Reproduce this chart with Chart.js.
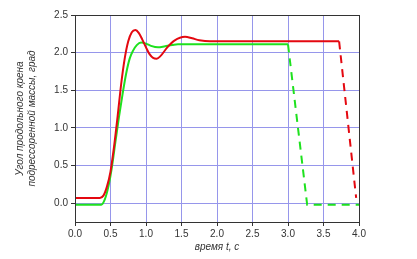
<!DOCTYPE html>
<html>
<head>
<meta charset="utf-8">
<script src="https://cdn.jsdelivr.net/npm/chart.js@4"></script>
<style>
  html, body { margin: 0; padding: 0; background: #fff; }
  #wrap { width: 417px; height: 259px; }
</style>
</head>
<body>
<div id="wrap"><canvas id="ChartKren" width="417" height="259"></canvas></div>
<script>
// время, с и угол крена, град
const redT = [0, 0.35, 0.40, 0.45, 0.50, 0.55, 0.60, 0.65, 0.70, 0.75, 0.80, 0.85, 0.90, 0.95, 1.00, 1.05, 1.10, 1.15, 1.20, 1.30, 1.40, 1.55, 1.65, 1.75, 1.90, 3.72];
const redY = [0.07, 0.07, 0.10, 0.22, 0.42, 0.75, 1.15, 1.58, 1.92, 2.15, 2.27, 2.30, 2.26, 2.17, 2.07, 1.98, 1.93, 1.92, 1.95, 2.07, 2.16, 2.21, 2.19, 2.165, 2.15, 2.15];
const redDashT = [3.72, 3.96];
const redDashY = [2.15, 0.07];

const greenT = [0, 0.37, 0.42, 0.47, 0.52, 0.57, 0.62, 0.67, 0.72, 0.77, 0.82, 0.87, 0.93, 1.00, 1.07, 1.17, 1.27, 1.37, 1.45, 3.00];
const greenY = [-0.02, -0.02, 0.05, 0.22, 0.48, 0.82, 1.15, 1.45, 1.72, 1.92, 2.03, 2.10, 2.135, 2.12, 2.09, 2.07, 2.085, 2.10, 2.11, 2.11];
const greenDashT = [3.00, 3.27, 4.00];
const greenDashY = [2.11, -0.02, -0.02];

const yTicks = [0, 0.5, 1.0, 1.5, 2.0, 2.5];

const toPoints = (ts, ys) => ts.map((t, i) => ({ x: t, y: ys[i] }));

const RED = 'rgb(228, 8, 16)';
const GREEN = 'rgb(30, 225, 30)';
const GRID = 'rgb(150, 150, 235)';

const rama = {
    id: 'rama',
    afterDraw(chart) {
        const { ctx, chartArea: a } = chart;
        ctx.save();
        ctx.strokeStyle = '#333';
        ctx.lineWidth = 1;
        ctx.strokeRect(a.left + 0.5, a.top + 0.5, a.right - a.left, a.bottom - a.top);
        ctx.fillStyle = '#333';
        ctx.font = 'italic 10px "Liberation Sans", Arial, sans-serif';
        ctx.textAlign = 'center';
        ctx.textBaseline = 'middle';
        ctx.fillText('время t, с', (a.left + a.right) / 2, 247);
        ctx.translate(20, (a.top + a.bottom) / 2);
        ctx.rotate(-Math.PI / 2);
        ctx.fillText('Угол продольного крена', 0, 0);
        ctx.fillText('подрессоренной массы, град', 0, 12);
        ctx.restore();
    }
};

const ctx = document.getElementById('ChartKren').getContext('2d');

const chartKren = new Chart(ctx, {
    type: 'line',
    data: {
        datasets: [
            { data: toPoints(redT, redY), borderColor: RED, borderWidth: 2, cubicInterpolationMode: 'monotone' },
            { data: toPoints(redDashT, redDashY), borderColor: RED, borderWidth: 2, borderDash: [8, 6] },
            { data: toPoints(greenT, greenY), borderColor: GREEN, borderWidth: 2, cubicInterpolationMode: 'monotone' },
            { data: toPoints(greenDashT, greenDashY), borderColor: GREEN, borderWidth: 2, borderDash: [8, 6] }
        ]
    },
    options: {
        responsive: false,
        animation: false,
        events: [],
        layout: { padding: { top: 15, right: 58, left: 0, bottom: 0 } },
        elements: { point: { radius: 0 } },
        plugins: { legend: { display: false }, tooltip: { enabled: false } },
        scales: {
            x: {
                type: 'linear',
                min: 0,
                max: 4,
                afterFit: (s) => { s.height = 37; },
                ticks: {
                    stepSize: 0.5,
                    color: '#333',
                    padding: 2,
                    font: { family: '"Liberation Sans", Arial, sans-serif', size: 10 },
                    callback: (v) => v.toFixed(1)
                },
                grid: { color: GRID, tickColor: '#333', tickLength: 4 },
                border: { color: '#000', width: 1 }
            },
            y: {
                type: 'linear',
                min: -0.25,
                max: 2.5,
                afterFit: (s) => { s.width = 75; },
                afterBuildTicks: (s) => { s.ticks = yTicks.map(v => ({ value: v })); },
                ticks: {
                    color: '#333',
                    padding: 3,
                    font: { family: '"Liberation Sans", Arial, sans-serif', size: 10 },
                    callback: (v) => v.toFixed(1)
                },
                grid: { color: GRID, tickColor: '#333', tickLength: 4 },
                border: { color: '#000', width: 1 }
            }
        }
    },
    plugins: [rama]
});
</script>
</body>
</html>
